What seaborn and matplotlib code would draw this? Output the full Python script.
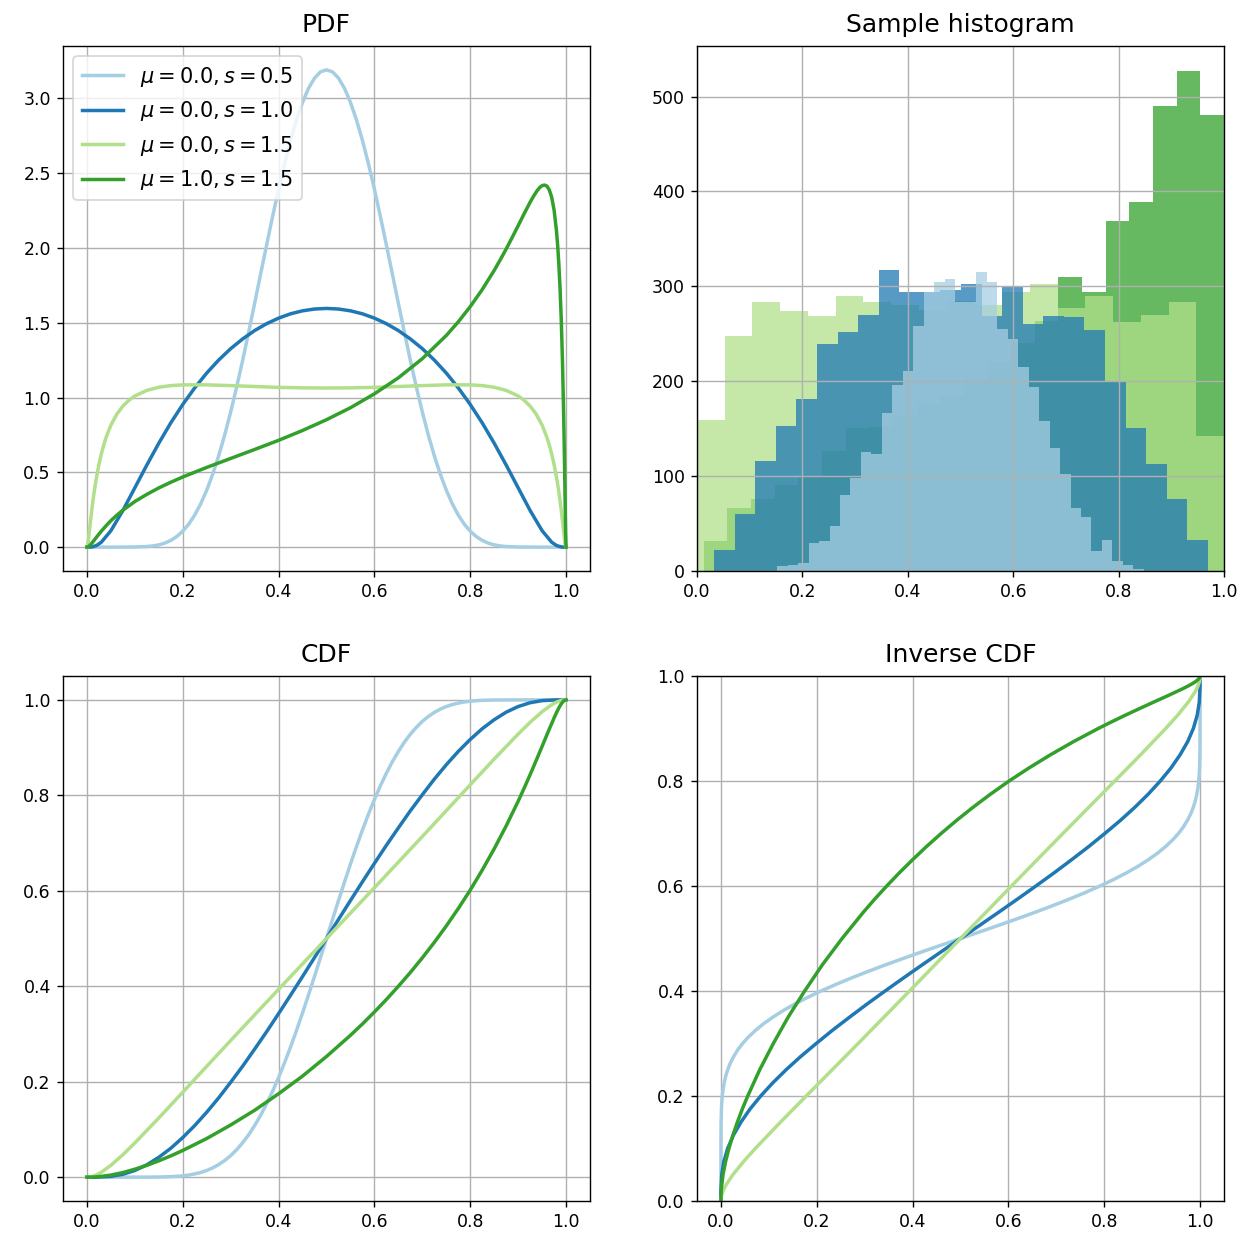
import numpy as np
import pandas as pd
import matplotlib
matplotlib.use("Agg")
import matplotlib.pyplot as plt
import seaborn as sns

labels = [r"$\mu=0.0, s=0.5$", r"$\mu=0.0, s=1.0$", r"$\mu=0.0, s=1.5$", r"$\mu=1.0, s=1.5$"]
colors = ["#a6cee3", "#1f78b4", "#b2df8a", "#33a02c"]

# ---------------- PDF curves ----------------
pdf_a_x = [0.0, 0.05, 0.1, 0.125, 0.1375, 0.15, 0.1625, 0.175, 0.1875, 0.2, 0.2125, 0.225, 0.2375, 0.25, 0.2625,
           0.275, 0.2875, 0.3, 0.3125, 0.325, 0.3375, 0.35, 0.3625, 0.375, 0.3875, 0.4, 0.4125, 0.425, 0.4375,
           0.45, 0.4625, 0.475, 0.4875, 0.5,
           0.5125, 0.525, 0.5375, 0.55, 0.5625, 0.575, 0.5875, 0.6, 0.6125, 0.625, 0.6375, 0.65, 0.6625, 0.675,
           0.6875, 0.7, 0.7125, 0.725, 0.7375, 0.75, 0.7625, 0.775, 0.7875, 0.8, 0.8125, 0.825, 0.8375, 0.85,
           0.8625, 0.875, 0.9, 0.95, 1.0]
pdf_a_y = [0.0, 0.0, 0.001, 0.004, 0.008, 0.015, 0.027, 0.045, 0.071, 0.107, 0.154, 0.215, 0.290, 0.381, 0.488,
           0.611, 0.750, 0.904, 1.071, 1.249, 1.437, 1.630, 1.826, 2.020, 2.211, 2.393, 2.564, 2.720, 2.857,
           2.974, 3.068, 3.136, 3.178, 3.191,
           3.178, 3.136, 3.068, 2.974, 2.857, 2.720, 2.564, 2.393, 2.211, 2.020, 1.826, 1.630, 1.437, 1.249,
           1.071, 0.904, 0.750, 0.611, 0.488, 0.381, 0.290, 0.215, 0.154, 0.107, 0.071, 0.045, 0.027, 0.015,
           0.008, 0.004, 0.001, 0.0, 0.0]

pdf_b_x = [0.0, 0.01, 0.02, 0.03, 0.05, 0.075, 0.1, 0.125, 0.15, 0.175, 0.2, 0.225, 0.25, 0.275, 0.3, 0.325, 0.35,
           0.375, 0.4, 0.425, 0.45, 0.475, 0.5, 0.525, 0.55, 0.575, 0.6, 0.625, 0.65, 0.675, 0.7, 0.725, 0.75,
           0.775, 0.8, 0.825, 0.85, 0.875, 0.9, 0.925, 0.95, 0.97, 0.98, 0.99, 1.0]
pdf_b_y = [0.0, 0.001, 0.011, 0.033, 0.110, 0.245, 0.397, 0.549, 0.695, 0.831, 0.954, 1.065, 1.164, 1.251, 1.327,
           1.392, 1.448, 1.494, 1.531, 1.560, 1.580, 1.592, 1.596, 1.592, 1.580, 1.560, 1.531, 1.494, 1.448, 1.392,
           1.327, 1.251, 1.164, 1.065, 0.954, 0.831, 0.695, 0.549, 0.397, 0.245, 0.110, 0.033, 0.011, 0.001, 0.0]

pdf_c_x = [0.0, 0.001, 0.002, 0.0035, 0.005, 0.0075, 0.01, 0.0125, 0.015, 0.0175, 0.02, 0.025, 0.03, 0.035, 0.04,
           0.05, 0.0625, 0.075, 0.0875, 0.1, 0.125, 0.15, 0.175, 0.2, 0.25, 0.3, 0.35, 0.4, 0.45, 0.5,
           0.55, 0.6, 0.65, 0.7, 0.75, 0.8, 0.825, 0.85, 0.875, 0.9, 0.9125, 0.925, 0.9375, 0.95, 0.96, 0.965,
           0.97, 0.975, 0.98, 0.9825, 0.985, 0.9875, 0.99, 0.9925, 0.995, 0.9965, 0.998, 0.999, 1.0]
pdf_c_y = [0.0, 0.007, 0.025, 0.063, 0.106, 0.178, 0.246, 0.310, 0.368, 0.421, 0.468, 0.553, 0.623, 0.683, 0.734,
           0.816, 0.890, 0.943, 0.982, 1.011, 1.048, 1.069, 1.080, 1.085, 1.085, 1.080, 1.074, 1.068, 1.065, 1.064,
           1.065, 1.068, 1.074, 1.080, 1.085, 1.085, 1.080, 1.069, 1.048, 1.011, 0.982, 0.943, 0.890, 0.816, 0.734,
           0.683, 0.623, 0.553, 0.468, 0.421, 0.368, 0.310, 0.246, 0.178, 0.106, 0.063, 0.025, 0.007, 0.0]

pdf_d_x = [0.0, 0.002, 0.005, 0.0075, 0.01, 0.015, 0.02, 0.03, 0.04, 0.05, 0.0625, 0.075, 0.1, 0.125, 0.15, 0.175,
           0.2, 0.25, 0.3, 0.35, 0.4, 0.45, 0.5, 0.55, 0.6, 0.65, 0.7, 0.75, 0.775, 0.8, 0.825, 0.85, 0.8625,
           0.875, 0.8875, 0.9, 0.9125, 0.925, 0.9325, 0.94, 0.945, 0.95, 0.955, 0.96, 0.965, 0.97, 0.975, 0.98,
           0.9825, 0.985, 0.9875, 0.99, 0.9925, 0.995, 0.9965, 0.9975, 0.998, 0.999, 1.0]
pdf_d_y = [0.0, 0.001, 0.008, 0.016, 0.026, 0.046, 0.067, 0.107, 0.143, 0.177, 0.214, 0.247, 0.305, 0.353, 0.396,
           0.434, 0.469, 0.533, 0.593, 0.653, 0.714, 0.780, 0.852, 0.932, 1.025, 1.132, 1.260, 1.415, 1.506, 1.608,
           1.722, 1.850, 1.920, 1.993, 2.070, 2.149, 2.229, 2.306, 2.348, 2.385, 2.404, 2.417, 2.421, 2.414, 2.389,
           2.340, 2.255, 2.115, 2.017, 1.890, 1.729, 1.520, 1.247, 0.890, 0.623, 0.423, 0.318, 0.114, 0.0]

# ---------------- CDF curves ----------------
cdf_a_x = [0.0, 0.1, 0.125, 0.15, 0.175, 0.1875, 0.2, 0.2125, 0.225, 0.2375, 0.25, 0.2625, 0.275, 0.2875, 0.3,
           0.3125, 0.325, 0.3375, 0.35, 0.3625, 0.375, 0.3875, 0.4, 0.4125, 0.425, 0.4375, 0.45, 0.4625, 0.475,
           0.4875, 0.5,
           0.5125, 0.525, 0.5375, 0.55, 0.5625, 0.575, 0.5875, 0.6, 0.6125, 0.625, 0.6375, 0.65, 0.6625, 0.675,
           0.6875, 0.7, 0.7125, 0.725, 0.7375, 0.75, 0.7625, 0.775, 0.7875, 0.8, 0.8125, 0.825, 0.85, 0.875, 0.9,
           1.0]
cdf_a_y = [0.0, 0.00001, 0.00005, 0.0003, 0.001, 0.0017, 0.0028, 0.0044, 0.0068, 0.0098, 0.014, 0.0194, 0.0264,
           0.0348, 0.0451, 0.0575, 0.0721, 0.0887, 0.1081, 0.1295, 0.1537, 0.18, 0.2088, 0.2398, 0.2728, 0.3076,
           0.3441, 0.3819, 0.4207, 0.4602, 0.5,
           0.5398, 0.5793, 0.6181, 0.6559, 0.6924, 0.7272, 0.7602, 0.7912, 0.82, 0.8463, 0.8705, 0.8919, 0.9113,
           0.9279, 0.9425, 0.9549, 0.9652, 0.9736, 0.9806, 0.986, 0.9902, 0.9932, 0.9956, 0.9972, 0.9983, 0.999,
           0.9997, 0.99995, 0.99999, 1.0]

cdf_b_x = [0.0, 0.01, 0.02, 0.05, 0.075, 0.1, 0.125, 0.15, 0.175, 0.2, 0.225, 0.25, 0.275, 0.3, 0.325, 0.35, 0.375,
           0.4, 0.425, 0.45, 0.475, 0.5, 0.525, 0.55, 0.575, 0.6, 0.625, 0.65, 0.675, 0.7, 0.725, 0.75, 0.775, 0.8,
           0.825, 0.85, 0.875, 0.9, 0.925, 0.95, 0.98, 0.99, 1.0]
cdf_b_y = [0.0, 0.000002, 0.00005, 0.0016, 0.006, 0.014, 0.0258, 0.0416, 0.0605, 0.083, 0.1081, 0.136, 0.1662,
           0.1988, 0.2325, 0.2682, 0.3047, 0.3426, 0.3812, 0.4204, 0.4601, 0.5, 0.5399, 0.5796, 0.6188, 0.6574,
           0.6953, 0.7318, 0.7675, 0.8012, 0.8338, 0.864, 0.8919, 0.917, 0.9395, 0.9584, 0.9742, 0.986, 0.994,
           0.9984, 0.99995, 0.999998, 1.0]

cdf_c_x = [0.0, 0.002, 0.005, 0.01, 0.02, 0.03, 0.05, 0.075, 0.1, 0.15, 0.2, 0.25, 0.3, 0.35, 0.4, 0.45, 0.5, 0.55,
           0.6, 0.65, 0.7, 0.75, 0.8, 0.85, 0.9, 0.925, 0.95, 0.97, 0.98, 0.99, 0.995, 0.998, 1.0]
cdf_c_y = [0.0, 0.00002, 0.0002, 0.0011, 0.0047, 0.0102, 0.0248, 0.047, 0.0717, 0.124, 0.178, 0.2322, 0.2863, 0.34,
           0.3936, 0.4468, 0.5, 0.5532, 0.6064, 0.66, 0.7137, 0.7678, 0.822, 0.876, 0.9283, 0.953, 0.9752, 0.9898,
           0.9953, 0.9989, 0.9998, 0.99998, 1.0]

cdf_d_x = [0.0, 0.005, 0.01, 0.02, 0.025, 0.05, 0.075, 0.1, 0.125, 0.15, 0.175, 0.2, 0.25, 0.3, 0.35, 0.4, 0.45,
           0.5, 0.55, 0.575, 0.6, 0.625, 0.65, 0.675, 0.7, 0.725, 0.75, 0.775, 0.8, 0.825, 0.85, 0.875, 0.9,
           0.9125, 0.925, 0.9375, 0.95, 0.9625, 0.97, 0.975, 0.98, 0.985, 0.99, 0.995, 1.0]
cdf_d_y = [0.0, 0.00001, 0.0001, 0.0006, 0.00094, 0.0043, 0.0096, 0.0166, 0.0248, 0.0342, 0.0445, 0.0559, 0.0809,
           0.1093, 0.1401, 0.1747, 0.2117, 0.2528, 0.2972, 0.3209, 0.346, 0.3722, 0.3999, 0.4288, 0.4595, 0.4919,
           0.5262, 0.5627, 0.6014, 0.6432, 0.6879, 0.7359, 0.7875, 0.8149, 0.8433, 0.8726, 0.9025, 0.9328, 0.9503,
           0.9621, 0.9731, 0.9831, 0.9917, 0.9979, 1.0]

# ---------------- Sample histograms (counts) ----------------
hist_a_range = (0.152, 0.848)
hist_a_counts = [5, 6, 8, 30, 32, 47, 80, 98, 125, 123, 167, 196, 211, 258, 294, 305, 308, 283, 283, 315, 305,
                 255, 245, 215, 194, 158, 130, 102, 66, 57, 21, 33, 11, 6, 2]
hist_b_range = (0.0324, 0.9695)
hist_b_counts = [22, 60, 116, 153, 181, 239, 252, 270, 317, 294, 294, 296, 303, 269, 299, 260, 269, 268, 254, 199,
                 151, 113, 76, 33]
hist_c_range = (0.0, 1.0)
hist_c_counts = [159, 248, 284, 274, 269, 290, 283, 280, 275, 285, 280, 294, 303, 277, 290, 262, 270, 283, 142]
hist_d_range = (0.013, 1.0)
hist_d_counts = [32, 66, 76, 91, 100, 127, 151, 152, 162, 175, 186, 202, 220, 240, 263, 310, 294, 369, 389, 490,
                 527, 481]

pdf_x = [pdf_a_x, pdf_b_x, pdf_c_x, pdf_d_x]
pdf_y = [pdf_a_y, pdf_b_y, pdf_c_y, pdf_d_y]
cdf_x = [cdf_a_x, cdf_b_x, cdf_c_x, cdf_d_x]
cdf_y = [cdf_a_y, cdf_b_y, cdf_c_y, cdf_d_y]
hists = [(hist_a_range, hist_a_counts), (hist_b_range, hist_b_counts),
         (hist_c_range, hist_c_counts), (hist_d_range, hist_d_counts)]

W, H, DPI = 1256, 1251, 125
fig = plt.figure(figsize=(W / DPI, H / DPI), dpi=DPI)

def axes_px(x0, y0, x1, y1):
    return fig.add_axes([x0 / W, 1 - y1 / H, (x1 - x0) / W, (y1 - y0) / H])

ax_pdf = axes_px(63, 46, 590, 571)
ax_hist = axes_px(697, 46, 1224, 571)
ax_cdf = axes_px(63, 676, 590, 1201)
ax_inv = axes_px(697, 676, 1224, 1201)

TITLE_SIZE = 14.4
TITLE_PAD = 8

# PDF
for i in range(4):
    sns.lineplot(x=pdf_x[i], y=pdf_y[i], color=colors[i], lw=2, label=labels[i],
                 estimator=None, sort=False, ax=ax_pdf)
ax_pdf.set_title("PDF", fontsize=TITLE_SIZE, pad=TITLE_PAD)
ax_pdf.legend(loc="upper left", fontsize=12)
ax_pdf.grid(True)

# Histogram (drawn in reverse order)
for i in [3, 2, 1, 0]:
    (lo, hi), counts = hists[i]
    edges = np.linspace(lo, hi, len(counts) + 1)
    df = pd.DataFrame({"x": (edges[:-1] + edges[1:]) / 2, "w": np.asarray(counts, dtype=float)})
    sns.histplot(data=df, x="x", weights="w", bins=edges.tolist(), color=colors[i], alpha=0.75,
                 linewidth=0, ax=ax_hist)
ax_hist.set_xlim(0, 1)
ax_hist.set_title("Sample histogram", fontsize=TITLE_SIZE, pad=TITLE_PAD)
ax_hist.set_ylabel("")
ax_hist.set_xlabel("")
ax_hist.grid(True)

# CDF
for i in range(4):
    sns.lineplot(x=cdf_x[i], y=cdf_y[i], color=colors[i], lw=2, estimator=None, sort=False, ax=ax_cdf)
ax_cdf.set_title("CDF", fontsize=TITLE_SIZE, pad=TITLE_PAD)
ax_cdf.grid(True)

# Inverse CDF
for i in range(4):
    sns.lineplot(x=cdf_y[i], y=cdf_x[i], color=colors[i], lw=2, estimator=None, sort=False, ax=ax_inv)
ax_inv.set_ylim(0, 1)
ax_inv.set_title("Inverse CDF", fontsize=TITLE_SIZE, pad=TITLE_PAD)
ax_inv.grid(True)

for ax in [ax_pdf, ax_hist, ax_cdf, ax_inv]:
    ax.tick_params(labelsize=10)

fig.savefig("out.png", dpi=DPI)
